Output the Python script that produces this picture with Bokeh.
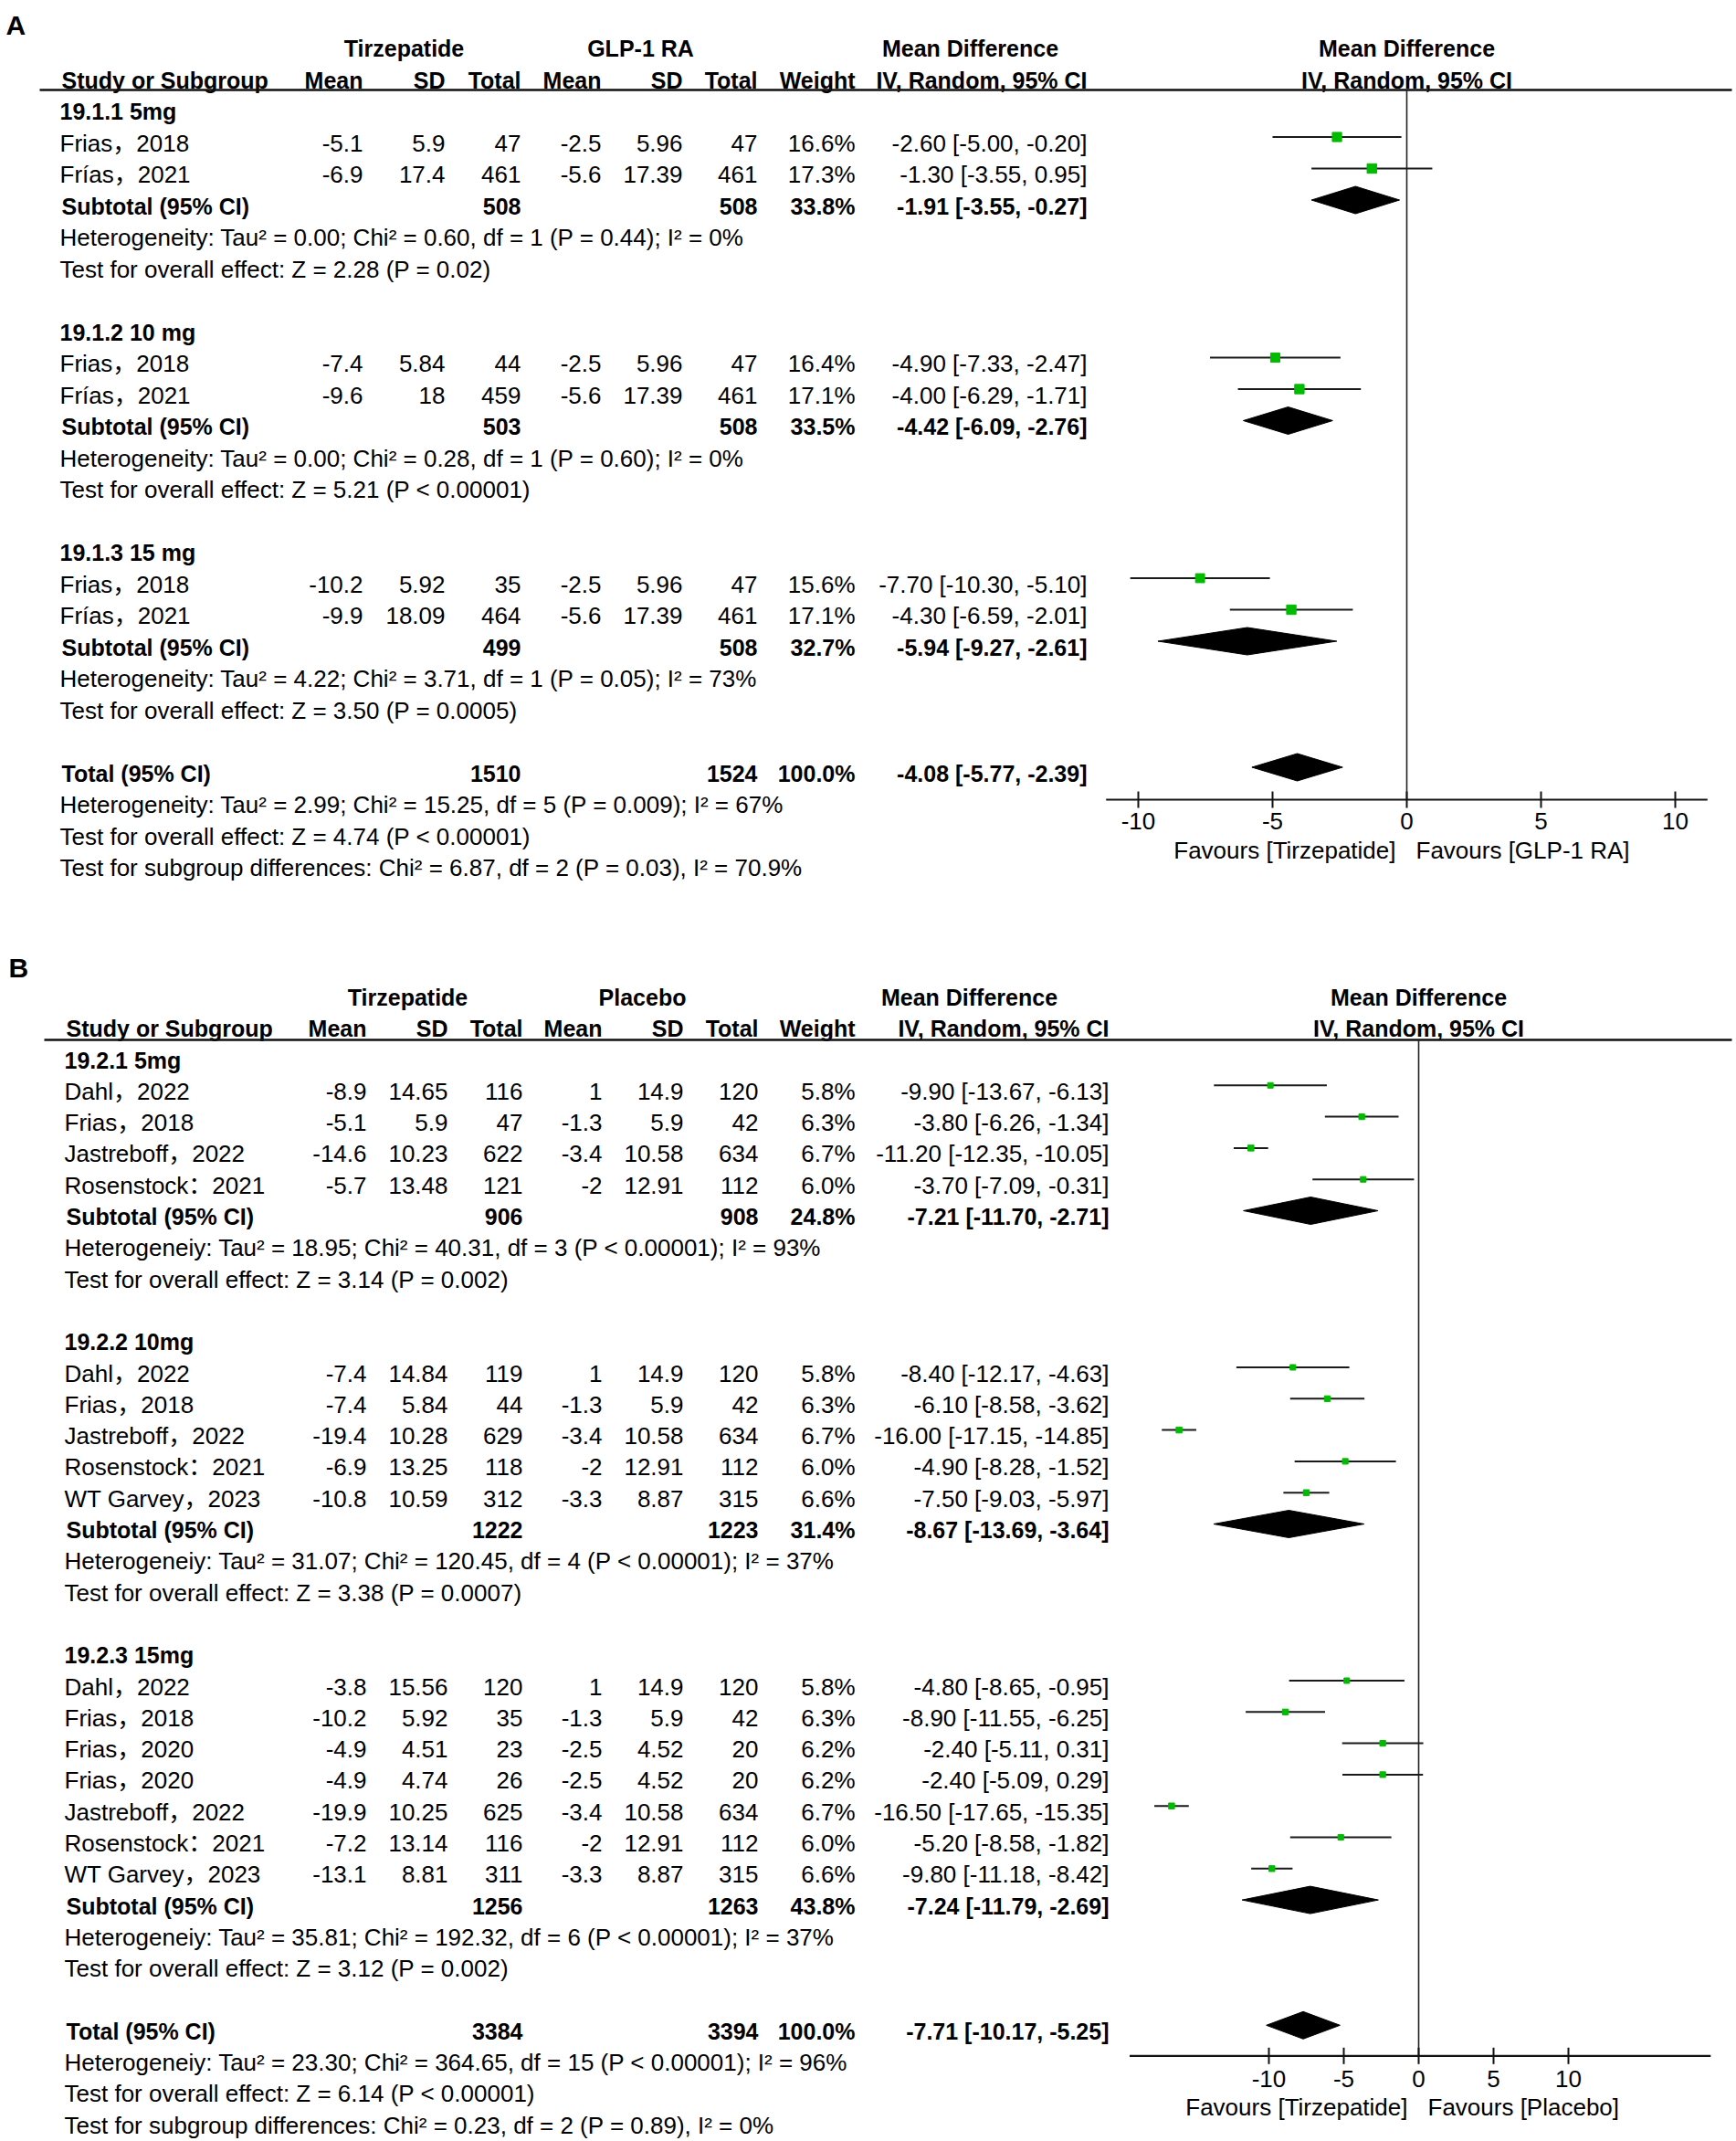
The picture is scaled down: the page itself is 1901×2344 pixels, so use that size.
import math
from bokeh.plotting import figure
from bokeh.models import Range1d, ColumnDataSource
from bokeh.layouts import column
from bokeh.core.properties import value
from bokeh.embed import file_html
from bokeh.resources import INLINE

# ---------------- Panel A data ----------------
A_treat = "Tirzepatide"
A_ctrl = "GLP-1 RA"
A_groups = ["19.1.1 5mg", "19.1.2 10 mg", "19.1.3 15 mg"]
A_group_of = [0, 0, 1, 1, 2, 2]
A_study = ["Frias，2018", "Frías，2021", "Frias，2018", "Frías，2021", "Frias，2018", "Frías，2021"]
A_t_mean = [-5.1, -6.9, -7.4, -9.6, -10.2, -9.9]
A_t_sd = [5.9, 17.4, 5.84, 18, 5.92, 18.09]
A_t_n = [47, 461, 44, 459, 35, 464]
A_c_mean = [-2.5, -5.6, -2.5, -5.6, -2.5, -5.6]
A_c_sd = [5.96, 17.39, 5.96, 17.39, 5.96, 17.39]
A_c_n = [47, 461, 47, 461, 47, 461]
A_weight = [16.6, 17.3, 16.4, 17.1, 15.6, 17.1]
A_md = [-2.60, -1.30, -4.90, -4.00, -7.70, -4.30]
A_lo = [-5.00, -3.55, -7.33, -6.29, -10.30, -6.59]
A_hi = [-0.20, 0.95, -2.47, -1.71, -5.10, -2.01]
A_sub_t_n = [508, 503, 499]
A_sub_c_n = [508, 508, 508]
A_sub_w = [33.8, 33.5, 32.7]
A_sub_md = [-1.91, -4.42, -5.94]
A_sub_lo = [-3.55, -6.09, -9.27]
A_sub_hi = [-0.27, -2.76, -2.61]
A_sub_het = [
    "Heterogeneity: Tau² = 0.00; Chi² = 0.60, df = 1 (P = 0.44); I² = 0%",
    "Heterogeneity: Tau² = 0.00; Chi² = 0.28, df = 1 (P = 0.60); I² = 0%",
    "Heterogeneity: Tau² = 4.22; Chi² = 3.71, df = 1 (P = 0.05); I² = 73%",
]
A_sub_test = [
    "Test for overall effect: Z = 2.28 (P = 0.02)",
    "Test for overall effect: Z = 5.21 (P < 0.00001)",
    "Test for overall effect: Z = 3.50 (P = 0.0005)",
]
A_tot_n = [1510, 1524]
A_tot_w = 100.0
A_tot_ci = [-4.08, -5.77, -2.39]
A_tot_notes = [
    "Heterogeneity: Tau² = 2.99; Chi² = 15.25, df = 5 (P = 0.009); I² = 67%",
    "Test for overall effect: Z = 4.74 (P < 0.00001)",
    "Test for subgroup differences: Chi² = 6.87, df = 2 (P = 0.03), I² = 70.9%",
]
A_ticks = [-10, -5, 0, 5, 10]
A_favours = ["Favours [Tirzepatide]", "Favours [GLP-1 RA]"]

# ---------------- Panel B data ----------------
B_treat = "Tirzepatide"
B_ctrl = "Placebo"
B_groups = ["19.2.1 5mg", "19.2.2 10mg", "19.2.3 15mg"]
B_group_of = [0, 0, 0, 0, 1, 1, 1, 1, 1, 2, 2, 2, 2, 2, 2, 2]
B_study = ["Dahl，2022", "Frias，2018", "Jastreboff，2022", "Rosenstock：2021",
           "Dahl，2022", "Frias，2018", "Jastreboff，2022", "Rosenstock：2021", "WT Garvey，2023",
           "Dahl，2022", "Frias，2018", "Frias，2020", "Frias，2020", "Jastreboff，2022",
           "Rosenstock：2021", "WT Garvey，2023"]
B_t_mean = [-8.9, -5.1, -14.6, -5.7, -7.4, -7.4, -19.4, -6.9, -10.8,
            -3.8, -10.2, -4.9, -4.9, -19.9, -7.2, -13.1]
B_t_sd = [14.65, 5.9, 10.23, 13.48, 14.84, 5.84, 10.28, 13.25, 10.59,
          15.56, 5.92, 4.51, 4.74, 10.25, 13.14, 8.81]
B_t_n = [116, 47, 622, 121, 119, 44, 629, 118, 312, 120, 35, 23, 26, 625, 116, 311]
B_c_mean = [1, -1.3, -3.4, -2, 1, -1.3, -3.4, -2, -3.3, 1, -1.3, -2.5, -2.5, -3.4, -2, -3.3]
B_c_sd = [14.9, 5.9, 10.58, 12.91, 14.9, 5.9, 10.58, 12.91, 8.87,
          14.9, 5.9, 4.52, 4.52, 10.58, 12.91, 8.87]
B_c_n = [120, 42, 634, 112, 120, 42, 634, 112, 315, 120, 42, 20, 20, 634, 112, 315]
B_weight = [5.8, 6.3, 6.7, 6.0, 5.8, 6.3, 6.7, 6.0, 6.6, 5.8, 6.3, 6.2, 6.2, 6.7, 6.0, 6.6]
B_md = [-9.90, -3.80, -11.20, -3.70, -8.40, -6.10, -16.00, -4.90, -7.50,
        -4.80, -8.90, -2.40, -2.40, -16.50, -5.20, -9.80]
B_lo = [-13.67, -6.26, -12.35, -7.09, -12.17, -8.58, -17.15, -8.28, -9.03,
        -8.65, -11.55, -5.11, -5.09, -17.65, -8.58, -11.18]
B_hi = [-6.13, -1.34, -10.05, -0.31, -4.63, -3.62, -14.85, -1.52, -5.97,
        -0.95, -6.25, 0.31, 0.29, -15.35, -1.82, -8.42]
B_sub_t_n = [906, 1222, 1256]
B_sub_c_n = [908, 1223, 1263]
B_sub_w = [24.8, 31.4, 43.8]
B_sub_md = [-7.21, -8.67, -7.24]
B_sub_lo = [-11.70, -13.69, -11.79]
B_sub_hi = [-2.71, -3.64, -2.69]
B_sub_het = [
    "Heterogeneiy: Tau² = 18.95; Chi² = 40.31, df = 3 (P < 0.00001); I² = 93%",
    "Heterogeneiy: Tau² = 31.07; Chi² = 120.45, df = 4 (P < 0.00001); I² = 37%",
    "Heterogeneiy: Tau² = 35.81; Chi² = 192.32, df = 6 (P < 0.00001); I² = 37%",
]
B_sub_test = [
    "Test for overall effect: Z = 3.14 (P = 0.002)",
    "Test for overall effect: Z = 3.38 (P = 0.0007)",
    "Test for overall effect: Z = 3.12 (P = 0.002)",
]
B_tot_n = [3384, 3394]
B_tot_w = 100.0
B_tot_ci = [-7.71, -10.17, -5.25]
B_tot_notes = [
    "Heterogeneiy: Tau² = 23.30; Chi² = 364.65, df = 15 (P < 0.00001); I² = 96%",
    "Test for overall effect: Z = 6.14 (P < 0.00001)",
    "Test for subgroup differences: Chi² = 0.23, df = 2 (P = 0.89), I² = 0%",
]
B_ticks = [-10, -5, 0, 5, 10]
B_favours = ["Favours [Tirzepatide]", "Favours [Placebo]"]

# ---------------- styling / layout ----------------
FONT = "Liberation Sans, Arial, Noto Sans CJK SC, sans-serif"
FS = "26px"
FS_BOLD = "25px"
WIDTH = 1901
PAGE_X0 = 0
GREEN = "#00bb00"
INK = "#000000"


def fmt(v):
    return str(v)


def ci_text(md, lo, hi):
    return f"{md:.2f} [{lo:.2f}, {hi:.2f}]"


def build(d, L):
    pitch, row0 = L["pitch"], L["row0"]
    top_px, h = L["top"], L["height"]

    def r(px):
        return (px - row0) / pitch

    p = figure(width=WIDTH, height=h, output_backend="svg", toolbar_location=None,
               x_axis_type=None, y_axis_type=None, min_border=0,
               x_range=Range1d(PAGE_X0, PAGE_X0 + WIDTH),
               y_range=Range1d(r(top_px + h), r(top_px)))
    p.grid.visible = False
    p.outline_line_color = None
    x0, ppu = L["zero_px"], L["ppu"]
    p.extra_x_ranges = {"md": Range1d((PAGE_X0 - x0) / ppu, (PAGE_X0 + WIDTH - x0) / ppu)}

    def txt(xs, ys, texts, align="left", bold=False, rng="default", x_offset=0, size=None):
        if size is None:
            size = FS_BOLD if bold else FS
        src = ColumnDataSource(dict(x=list(xs), y=list(ys), t=list(texts)))
        p.text(x="x", y="y", text="t", source=src, text_font=value(FONT),
               text_font_size=size, text_font_style="bold" if bold else "normal",
               text_align=align, text_baseline="middle", text_color=INK,
               x_range_name=rng, x_offset=x_offset)

    C = L["cols"]
    # panel letter
    txt([L["letter_x"]], [r(L["letter_y"])], [d["letter"]], bold=True, size="30px")
    # headers
    txt([C["h1_t"], C["h1_c"]], [-2, -2], [d["treat"], d["ctrl"]], align="center", bold=True)
    txt([C["mdh"]], [-2], ["Mean Difference"], align="center", bold=True)
    txt([C["label"] + 2], [-1], ["Study or Subgroup"], bold=True)
    txt([C["t_mean"], C["t_sd"], C["t_n"], C["c_mean"], C["c_sd"], C["c_n"], C["w"], C["ci"]],
        [-1] * 8, ["Mean", "SD", "Total", "Mean", "SD", "Total", "Weight", "IV, Random, 95% CI"],
        align="right", bold=True)
    txt([0, 0], [-2, -1], ["Mean Difference", "IV, Random, 95% CI"], align="center", bold=True, rng="md")
    line_y = r(L["hline_px"])
    p.segment(x0=[L["hline_x0"]], y0=[line_y], x1=[L["hline_x1"]], y1=[line_y],
              line_color="#111111", line_width=2.5)

    # rows
    study_rows, sub_rows = [], []
    group_rows, note_rows, notes = [], [], []
    row = 0
    for g in range(len(d["groups"])):
        group_rows.append(row)
        row += 1
        for i, gi in enumerate(d["group_of"]):
            if gi == g:
                study_rows.append(row)
                row += 1
        sub_rows.append(row)
        note_rows += [row + 1, row + 2]
        notes += [d["sub_het"][g], d["sub_test"][g]]
        row += 4
    tot_row = row
    note_rows += [row + 1, row + 2, row + 3]
    notes += d["tot_notes"]

    txt([C["label"]] * len(group_rows), group_rows, d["groups"], bold=True)
    txt([C["label"]] * len(study_rows), study_rows, d["study"])
    for key, vals in (("t_mean", d["t_mean"]), ("t_sd", d["t_sd"]), ("t_n", d["t_n"]),
                      ("c_mean", d["c_mean"]), ("c_sd", d["c_sd"]), ("c_n", d["c_n"])):
        txt([C[key]] * len(study_rows), study_rows, [fmt(v) for v in vals], align="right")
    txt([C["w"]] * len(study_rows), study_rows, [f"{w:.1f}%" for w in d["weight"]], align="right")
    txt([C["ci"]] * len(study_rows), study_rows,
        [ci_text(a, b, c) for a, b, c in zip(d["md"], d["lo"], d["hi"])], align="right")

    txt([C["label"] + 2] * len(sub_rows) + [C["label"] + 2], sub_rows + [tot_row],
        ["Subtotal (95% CI)"] * len(sub_rows) + ["Total (95% CI)"], bold=True)
    txt([C["t_n"]] * (len(sub_rows) + 1), sub_rows + [tot_row],
        [fmt(v) for v in d["sub_t_n"]] + [fmt(d["tot_n"][0])], align="right", bold=True)
    txt([C["c_n"]] * (len(sub_rows) + 1), sub_rows + [tot_row],
        [fmt(v) for v in d["sub_c_n"]] + [fmt(d["tot_n"][1])], align="right", bold=True)
    txt([C["w"]] * (len(sub_rows) + 1), sub_rows + [tot_row],
        [f"{w:.1f}%" for w in d["sub_w"]] + [f"{d['tot_w']:.1f}%"], align="right", bold=True)
    txt([C["ci"]] * (len(sub_rows) + 1), sub_rows + [tot_row],
        [ci_text(a, b, c) for a, b, c in zip(d["sub_md"], d["sub_lo"], d["sub_hi"])]
        + [ci_text(*d["tot_ci"])], align="right", bold=True)
    txt([C["label"]] * len(note_rows), note_rows, notes)

    # forest: zero line, CIs, squares, diamonds (marks sit slightly above text centre)
    lift = L["mark_lift"] / pitch
    mrows = [v - lift for v in study_rows]
    axis_row = tot_row + L["axis_gap"] / pitch
    p.segment(x0=[0], y0=[line_y], x1=[0], y1=[axis_row], x_range_name="md",
              line_color="#222222", line_width=1.6)
    p.segment(x0=d["lo"], y0=mrows, x1=d["hi"], y1=mrows, x_range_name="md",
              line_color="#1a1a1a", line_width=2)
    p.scatter(x=d["md"], y=mrows, marker="square",
              size=[2.5 * math.sqrt(w) for w in d["weight"]],
              fill_color=GREEN, line_color=GREEN, x_range_name="md")
    hh = 15 / pitch
    xs, ys = [], []
    for (m, lo, hi), rr in zip(list(zip(d["sub_md"], d["sub_lo"], d["sub_hi"])) + [tuple(d["tot_ci"])],
                               sub_rows + [tot_row]):
        rr = rr - lift
        xs.append([lo, m, hi, m])
        ys.append([rr, rr - hh, rr, rr + hh])
    p.patches(xs=xs, ys=ys, x_range_name="md", fill_color="#000000", line_color="#000000")

    # bottom scale
    a0, a1 = L["axis_extent"]
    p.segment(x0=[a0], y0=[axis_row], x1=[a1], y1=[axis_row], x_range_name="md",
              line_color="#111111", line_width=2.2)
    tk = 9 / pitch
    p.segment(x0=d["ticks"], y0=[axis_row - tk] * len(d["ticks"]), x1=d["ticks"],
              y1=[axis_row + tk] * len(d["ticks"]), x_range_name="md",
              line_color="#111111", line_width=2)
    txt(d["ticks"], [axis_row + L["tick_gap"] / pitch] * len(d["ticks"]), [str(t) for t in d["ticks"]],
        align="center", rng="md")
    fy = axis_row + L["fav_gap"] / pitch
    txt([0], [fy], [d["favours"][0]], align="right", rng="md", x_offset=-12)
    txt([0], [fy], [d["favours"][1]], align="left", rng="md", x_offset=10)
    return p


A = dict(letter="A", treat=A_treat, ctrl=A_ctrl, groups=A_groups, group_of=A_group_of, study=A_study,
         t_mean=A_t_mean, t_sd=A_t_sd, t_n=A_t_n, c_mean=A_c_mean, c_sd=A_c_sd, c_n=A_c_n,
         weight=A_weight, md=A_md, lo=A_lo, hi=A_hi, sub_t_n=A_sub_t_n, sub_c_n=A_sub_c_n,
         sub_w=A_sub_w, sub_md=A_sub_md, sub_lo=A_sub_lo, sub_hi=A_sub_hi, sub_het=A_sub_het,
         sub_test=A_sub_test, tot_n=A_tot_n, tot_w=A_tot_w, tot_ci=A_tot_ci, tot_notes=A_tot_notes,
         ticks=A_ticks, favours=A_favours)
B = dict(letter="B", treat=B_treat, ctrl=B_ctrl, groups=B_groups, group_of=B_group_of, study=B_study,
         t_mean=B_t_mean, t_sd=B_t_sd, t_n=B_t_n, c_mean=B_c_mean, c_sd=B_c_sd, c_n=B_c_n,
         weight=B_weight, md=B_md, lo=B_lo, hi=B_hi, sub_t_n=B_sub_t_n, sub_c_n=B_sub_c_n,
         sub_w=B_sub_w, sub_md=B_sub_md, sub_lo=B_sub_lo, sub_hi=B_sub_hi, sub_het=B_sub_het,
         sub_test=B_sub_test, tot_n=B_tot_n, tot_w=B_tot_w, tot_ci=B_tot_ci, tot_notes=B_tot_notes,
         ticks=B_ticks, favours=B_favours)

LA = dict(pitch=34.5, row0=121.5, top=0, height=1000, zero_px=1540, ppu=29.4,
          axis_extent=(-11.2, 11.2), letter_x=6, letter_y=27, hline_px=98, hline_x0=43,
          hline_x1=1896, mark_lift=6.5, axis_gap=29, tick_gap=23, fav_gap=55,
          cols=dict(label=65, t_mean=397, t_sd=487, t_n=570, c_mean=658, c_sd=747, c_n=829,
                    w=936, ci=1190, h1_t=442, h1_c=701, mdh=1062))
LB = dict(pitch=34.3, row0=1160, top=1000, height=1344, zero_px=1553, ppu=16.4,
          axis_extent=(-19.3, 19.5), letter_x=9, letter_y=1059, hline_px=1138, hline_x0=48,
          hline_x1=1896, mark_lift=6.5, axis_gap=27, tick_gap=25, fav_gap=56,
          cols=dict(label=70, t_mean=401, t_sd=490, t_n=572, c_mean=659, c_sd=748, c_n=830,
                    w=936, ci=1214, h1_t=446, h1_c=703, mdh=1061))

pa = build(A, LA)
pb = build(B, LB)
layout = column(pa, pb)
open("out.html", "w").write(file_html(layout, INLINE))
